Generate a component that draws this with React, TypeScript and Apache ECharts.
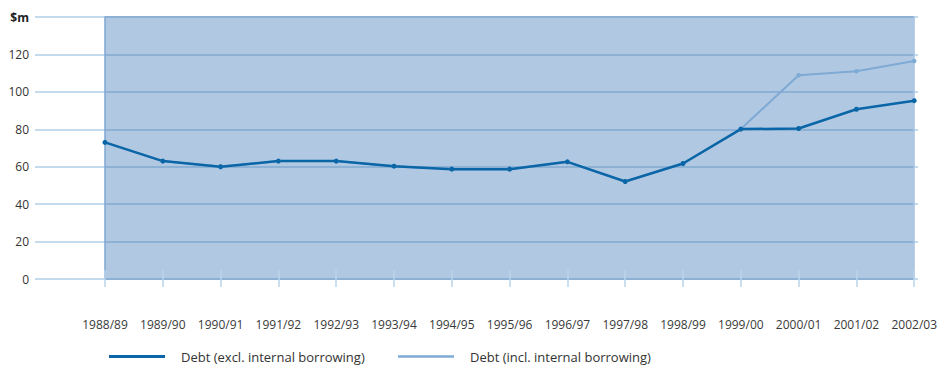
import React, { useEffect, useRef } from "react";
import * as echarts from "echarts";

const years = [
  "1988/89", "1989/90", "1990/91", "1991/92", "1992/93", "1993/94", "1994/95", "1995/96",
  "1996/97", "1997/98", "1998/99", "1999/00", "2000/01", "2001/02", "2002/03",
];

// Debt, $m
const debtExcl = [73, 63, 60, 63, 63, 60.3, 58.7, 58.7, 62.6, 52.1, 61.7, 80.1, 80.4, 90.7, 95.3];
const debtIncl = [73, 63, 60, 63, 63, 60.3, 58.7, 58.7, 62.6, 52.1, 61.7, 80.1, 108.9, 111, 116.5];

const seriesNames = ["Debt (excl. internal borrowing)", "Debt (incl. internal borrowing)"];

const yMin = 0;
const yMax = 140;
const yStep = 20;
const unitLabel = "$m";

const FONT = "'Open Sans', 'Noto Sans', sans-serif";
const DARK = "#0a66a6";
const LIGHT = "#7eaad4";
const FILL = "#b1c8e3";
const GRID_IN = "#8db0d5";
const GRID_OUT = "#c4dbee";
const TICK = "#b9d4ea";

function legendFor(name: string, color: string, left: number, lineH: number) {
  return {
    left,
    top: 345,
    data: [{ name, icon: "rect", itemStyle: { color } }],
    itemWidth: 56,
    itemHeight: lineH,
    itemGap: 0,
    formatter: (n: string) => "{p|}" + n,
    textStyle: {
      color: "#333",
      fontFamily: FONT,
      fontSize: 13,
      rich: { p: { width: 11 } },
    },
  };
}

export default function App() {
  const ref = useRef<HTMLDivElement>(null);

  useEffect(() => {
    if (!ref.current) return;
    const chart = echarts.init(ref.current, undefined, { renderer: "svg" });

    chart.setOption({
      animation: false,
      grid: [
        { left: 35, right: 22, top: 17, bottom: 93 },
        { left: 105, right: 22, top: 17, bottom: 93, show: true, backgroundColor: FILL, borderWidth: 0 },
      ],
      xAxis: [
        { gridIndex: 0, type: "value", show: false },
        {
          gridIndex: 1,
          type: "category",
          data: years,
          boundaryGap: false,
          axisLine: { show: false },
          axisTick: { show: true, interval: 0, length: 8, lineStyle: { color: TICK, width: 1.5 } },
          axisLabel: {
            interval: 0,
            margin: 39,
            color: "#3a3a3a",
            fontFamily: FONT,
            fontSize: 12,
          },
          splitLine: { show: false },
        },
        {
          gridIndex: 1,
          type: "category",
          position: "top",
          data: years,
          boundaryGap: false,
          axisLine: { show: false },
          axisTick: { show: true, interval: 0, length: 9, lineStyle: { color: TICK, width: 1.5 } },
          axisLabel: { show: false },
          splitLine: { show: false },
        },
      ],
      yAxis: [
        {
          gridIndex: 0,
          type: "value",
          min: yMin,
          max: yMax,
          interval: yStep,
          axisLine: { show: false },
          axisTick: { show: false },
          splitLine: { show: true, lineStyle: { color: GRID_OUT, width: 2 } },
          axisLabel: {
            margin: 6,
            color: "#333",
            fontFamily: FONT,
            fontSize: 12,
            formatter: (v: number) => (v === yMax ? "{u|" + unitLabel + "}" : String(v)),
            rich: {
              u: { fontFamily: FONT, fontSize: 12, fontWeight: "bold", color: "#222" },
            },
          },
        },
        {
          gridIndex: 1,
          type: "value",
          min: yMin,
          max: yMax,
          interval: yStep,
          axisLine: { show: true, lineStyle: { color: "#7ea7d0", width: 1.5 } },
          axisTick: { show: false },
          axisLabel: { show: false },
          splitLine: { show: true, lineStyle: { color: GRID_IN, width: 2 } },
        },
        {
          gridIndex: 1,
          type: "value",
          position: "right",
          min: yMin,
          max: yMax,
          interval: yStep,
          axisLine: { show: true, lineStyle: { color: "#a9c6e4", width: 1.5 } },
          axisTick: { show: false },
          axisLabel: { show: false },
          splitLine: { show: false },
        },
      ],
      legend: [
        legendFor(seriesNames[0], DARK, 104, 3),
        legendFor(seriesNames[1], LIGHT, 393, 2.5),
      ],
      series: [
        {
          name: seriesNames[1],
          type: "line",
          xAxisIndex: 1,
          yAxisIndex: 1,
          data: debtIncl,
          symbol: "circle",
          symbolSize: 4.5,
          itemStyle: { color: LIGHT },
          lineStyle: { color: LIGHT, width: 2 },
        },
        {
          name: seriesNames[0],
          type: "line",
          xAxisIndex: 1,
          yAxisIndex: 1,
          data: debtExcl,
          symbol: "circle",
          symbolSize: 5,
          itemStyle: { color: DARK },
          lineStyle: { color: DARK, width: 2.5 },
        },
      ],
    });

    return () => chart.dispose();
  }, []);

  return (
    <div
      ref={ref}
      style={{ position: "fixed", left: 0, top: 0, width: 940, height: 372, background: "#fff" }}
    />
  );
}
